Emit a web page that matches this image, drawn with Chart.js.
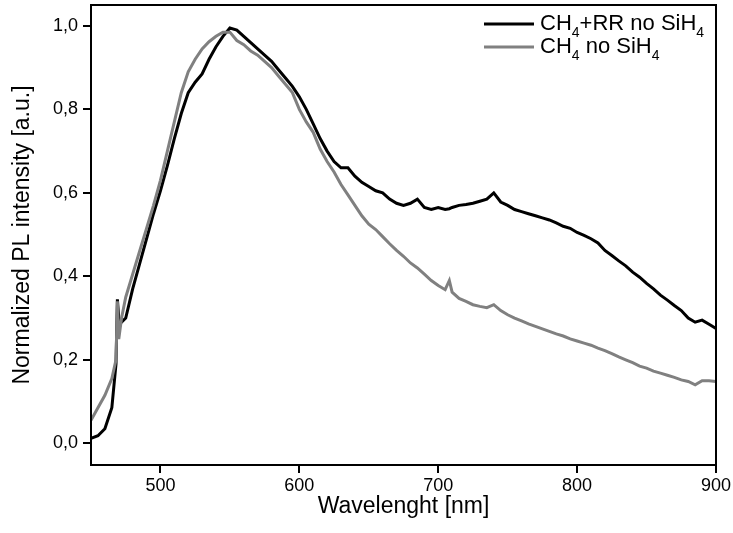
<!DOCTYPE html>
<html>
<head>
<meta charset="utf-8">
<script src="https://cdn.jsdelivr.net/npm/chart.js@4.4.1/dist/chart.umd.min.js"></script>
<style>
  html, body { margin: 0; padding: 0; background: #fff; }
  #wrap { width: 733px; height: 533px; }
</style>
</head>
<body>
<div id="wrap"><canvas id="myChart" width="733" height="533"></canvas></div>
<script>
// wavelength grid [nm]
const wavelength = [
  450, 455, 460, 465, 468, 469, 470, 472, 475, 480, 485, 490, 495,
  500, 505, 510, 515, 520, 525, 530, 535, 540, 545, 550, 555, 560, 565, 570, 575, 580, 585, 590, 595,
  600, 605, 610, 615, 620, 625, 630, 635, 640, 645, 650, 655, 660, 665, 670, 675, 680, 685, 690, 695,
  700, 705, 708, 710, 715, 720, 725, 730, 735, 740, 745, 750, 755, 760, 765, 770, 775, 780, 785, 790, 795,
  800, 805, 810, 815, 820, 825, 830, 835, 840, 845, 850, 855, 860, 865, 870, 875, 880, 885, 890, 895, 900
];

// CH4+RR no SiH4 (black)
const ch4RR = [
  0.012, 0.018, 0.035, 0.085, 0.19, 0.345, 0.30, 0.29, 0.30, 0.37, 0.43, 0.49, 0.55,
  0.605, 0.665, 0.73, 0.79, 0.84, 0.865, 0.885, 0.92, 0.95, 0.975, 0.995, 0.99, 0.975, 0.96, 0.945, 0.93, 0.915, 0.895, 0.875, 0.855,
  0.83, 0.80, 0.765, 0.73, 0.70, 0.675, 0.66, 0.66, 0.64, 0.625, 0.615, 0.605, 0.60, 0.585, 0.575, 0.57, 0.575, 0.585, 0.565, 0.56,
  0.565, 0.56, 0.562, 0.565, 0.57, 0.572, 0.575, 0.58, 0.585, 0.60, 0.578, 0.57, 0.56, 0.555, 0.55, 0.545, 0.54, 0.535, 0.528, 0.52, 0.515,
  0.505, 0.498, 0.49, 0.48, 0.462, 0.45, 0.437, 0.425, 0.41, 0.398, 0.383, 0.37, 0.355, 0.343, 0.33, 0.318, 0.30, 0.29, 0.295, 0.285, 0.275
];

// CH4 no SiH4 (grey)
const ch4 = [
  0.055, 0.085, 0.115, 0.155, 0.20, 0.34, 0.25, 0.30, 0.35, 0.405, 0.46, 0.515, 0.57,
  0.63, 0.70, 0.77, 0.84, 0.89, 0.92, 0.945, 0.962, 0.975, 0.985, 0.985, 0.965, 0.955, 0.94, 0.93, 0.915, 0.90, 0.88, 0.86, 0.84,
  0.80, 0.77, 0.745, 0.705, 0.675, 0.65, 0.62, 0.595, 0.57, 0.545, 0.525, 0.512, 0.495, 0.478, 0.462, 0.448, 0.432, 0.42, 0.405, 0.39,
  0.378, 0.368, 0.39, 0.362, 0.347, 0.34, 0.332, 0.328, 0.325, 0.332, 0.318, 0.308, 0.30, 0.293, 0.286, 0.28, 0.274, 0.268, 0.262, 0.257, 0.25,
  0.245, 0.24, 0.235, 0.228, 0.222, 0.215, 0.207, 0.20, 0.193, 0.185, 0.18, 0.173, 0.168, 0.163, 0.158, 0.152, 0.148, 0.14, 0.15, 0.15, 0.148
];

const xTicks = [500, 600, 700, 800, 900];
const yTicks = [0, 0.2, 0.4, 0.6, 0.8, 1.0];

const seriesNames = [["CH", "4", "+RR no SiH", "4"], ["CH", "4", " no SiH", "4"]];
const seriesColors = ["#000000", "#808080"];

const fontFamily = "'Liberation Sans', Arial, sans-serif";
const toPoints = (ys) => wavelength.map((x, i) => ({ x: x, y: ys[i] }));

// box around plot + legend with subscripts
const frame = {
  id: "frame",
  afterDraw(chart) {
    const { ctx, chartArea: a } = chart;
    ctx.save();
    ctx.strokeStyle = "#000";
    ctx.lineWidth = 2;
    ctx.strokeRect(a.left, a.top, a.right - a.left, a.bottom - a.top);

    const rows = [24, 47];
    rows.forEach((y, k) => {
      ctx.strokeStyle = seriesColors[k];
      ctx.lineWidth = 3;
      ctx.beginPath();
      ctx.moveTo(484, y);
      ctx.lineTo(534, y);
      ctx.stroke();
      let x = 540;
      ctx.fillStyle = "#000";
      ctx.textBaseline = "middle";
      seriesNames[k].forEach((part, j) => {
        const sub = j % 2 === 1;
        ctx.font = (sub ? "14px " : "22px ") + fontFamily;
        ctx.fillText(part, x, sub ? y + 9 : y);
        x += ctx.measureText(part).width;
      });
    });
    ctx.restore();
  }
};

const contexto = document.getElementById("myChart").getContext("2d");

const myChart = new Chart(contexto, {
  type: "line",
  data: {
    datasets: [
      {
        label: "CH4 no SiH4",
        data: toPoints(ch4),
        borderColor: seriesColors[1],
        borderWidth: 3,
        pointRadius: 0,
        tension: 0,
      },
      {
        label: "CH4+RR no SiH4",
        data: toPoints(ch4RR),
        borderColor: seriesColors[0],
        borderWidth: 3,
        pointRadius: 0,
        tension: 0,
      },
    ],
  },
  options: {
    responsive: false,
    animation: false,
    layout: { padding: { left: 0, top: 5, right: 17, bottom: 0 } },
    plugins: { legend: { display: false }, tooltip: { enabled: false } },
    scales: {
      x: {
        type: "linear",
        min: 450,
        max: 900,
        afterBuildTicks: (s) => { s.ticks = xTicks.map((v) => ({ value: v })); },
        afterFit: (s) => { s.height = 68; s.paddingLeft = 0; s.paddingRight = 0; },
        grid: { drawOnChartArea: false, drawTicks: true, tickLength: 8, color: "#000", lineWidth: 2 },
        border: { display: false },
        ticks: {
          color: "#000",
          padding: 2,
          maxRotation: 0,
          font: { family: fontFamily, size: 18 },
        },
        title: {
          display: true,
          text: "Wavelenght [nm]",
          color: "#000",
          padding: { top: 0, bottom: 13 },
          font: { family: fontFamily, size: 23 },
        },
      },
      y: {
        min: -0.052,
        max: 1.05,
        afterBuildTicks: (s) => { s.ticks = yTicks.map((v) => ({ value: v })); },
        afterFit: (s) => { s.width = 91; s.paddingTop = 0; s.paddingBottom = 0; },
        grid: { drawOnChartArea: false, drawTicks: true, tickLength: 8, color: "#000", lineWidth: 2 },
        border: { display: false },
        ticks: {
          color: "#000",
          padding: 5,
          font: { family: fontFamily, size: 18 },
          callback: (v) => v.toFixed(1).replace(".", ","),
        },
        title: {
          display: true,
          text: "Normalized PL intensity [a.u.]",
          color: "#000",
          padding: { top: 9, bottom: 0 },
          font: { family: fontFamily, size: 23 },
        },
      },
    },
  },
  plugins: [frame],
});
</script>
</body>
</html>
